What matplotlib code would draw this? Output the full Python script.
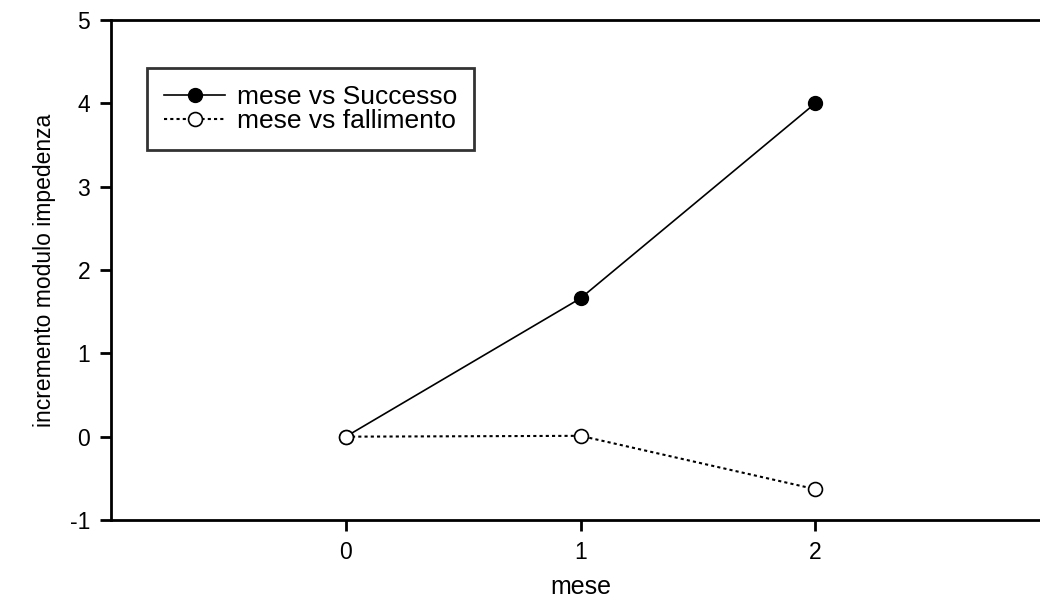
import matplotlib.pyplot as plt

mese = [0, 1, 2]
successo = [0.0, 1.66, 4.0]
fallimento = [0.0, 0.01, -0.63]
yticks = [-1, 0, 1, 2, 3, 4, 5]

plt.rcParams['font.family'] = ['Liberation Sans', 'DejaVu Sans']
plt.rcParams['axes.unicode_minus'] = False

fig = plt.figure(figsize=(10.4, 6.01), dpi=100)
# axes run past the right edge of the figure
ax = fig.add_axes([111 / 1040, 81 / 601, 939 / 1040, 500 / 601])

ax.plot(mese, successo, color='black', lw=1.2, marker='o', ms=10,
        mfc='black', mec='black', label='mese vs Successo')
ax.plot(mese, fallimento, color='black', lw=1.5, ls=(0, (1.5, 1.5)), marker='o', ms=10,
        mfc='white', mec='black', mew=1.2, label='mese vs fallimento')

ax.set_xlim(-1, 3)
ax.set_ylim(-1, 5)
ax.set_xticks(mese)
ax.set_yticks(yticks)
ax.spines['right'].set_visible(False)
for s in ['left', 'top', 'bottom']:
    ax.spines[s].set_linewidth(2)
ax.tick_params(direction='out', length=8, width=2, labelsize=16.5, pad=7)

ax.set_ylabel('incremento modulo impedenza', fontsize=16.5, labelpad=10)
ax.set_xlabel('mese', fontsize=18, labelpad=8)

leg = ax.legend(loc='upper left', bbox_to_anchor=(36 / 939, 1 - 48 / 500), fontsize=19,
                frameon=True, fancybox=False, handlelength=2.3, handletextpad=0.45,
                borderpad=0.65, labelspacing=0.0, borderaxespad=0)
leg.get_frame().set_edgecolor('black')
leg.get_frame().set_linewidth(2)

fig.savefig('out.png', dpi=100)
